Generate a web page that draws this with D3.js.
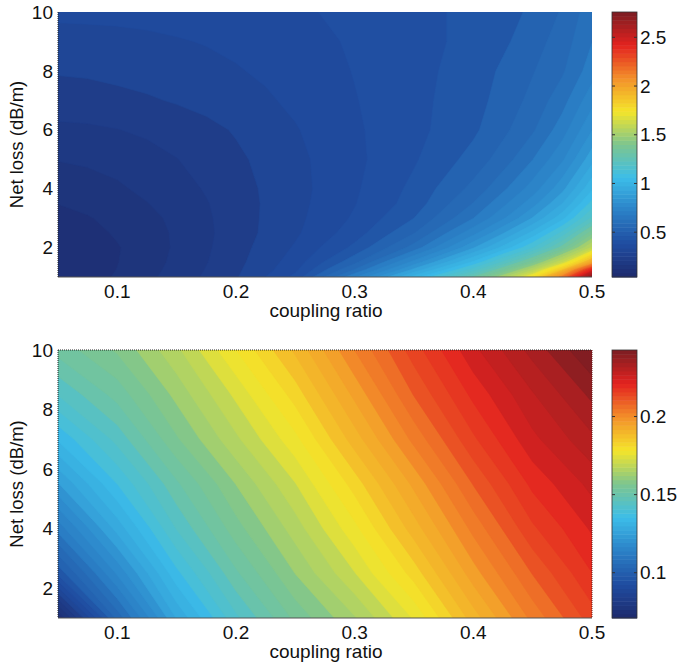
<!DOCTYPE html>
<html>
	<head>
		<script src="https://d3js.org/d3.v7.min.js"></script>
		<style>
			body {
				margin: 0;
				background: #fff;
			}
			text {
				font-family: 'Liberation Sans', Arial, sans-serif;
				fill: #111;
			}
		</style>
	</head>

	<body>
		<svg id="fig" width="685" height="666"></svg>
		<script>
			// ---- top panel: grid (rows follow lossTop, columns follow ratioTop)
			const ratioTop = [0.05, 0.075, 0.1, 0.125, 0.15, 0.175, 0.2, 0.225, 0.25, 0.3, 0.35, 0.4, 0.425, 0.45, 0.475, 0.5];
			const lossTop = [1, 1.25, 1.5, 2, 2.5, 3, 3.5, 4, 5, 6, 7, 8, 9, 10];
			const valuesTop = [
				[0.06, 0.09, 0.12, 0.155, 0.19, 0.23, 0.27, 0.33, 0.4, 0.7, 1.0, 1.3, 1.5, 1.75, 2.15, 2.75],
				[0.06, 0.086, 0.115, 0.149, 0.185, 0.224, 0.265, 0.313, 0.37, 0.6, 0.88, 1.16, 1.34, 1.55, 1.88, 2.42],
				[0.062, 0.085, 0.112, 0.145, 0.18, 0.219, 0.26, 0.305, 0.355, 0.53, 0.78, 1.04, 1.2, 1.38, 1.62, 2.0],
				[0.07, 0.087, 0.11, 0.141, 0.175, 0.213, 0.255, 0.293, 0.335, 0.45, 0.62, 0.86, 0.99, 1.13, 1.32, 1.58],
				[0.08, 0.097, 0.12, 0.146, 0.175, 0.21, 0.25, 0.284, 0.32, 0.41, 0.54, 0.74, 0.86, 0.99, 1.15, 1.38],
				[0.095, 0.11, 0.13, 0.153, 0.18, 0.213, 0.25, 0.282, 0.315, 0.39, 0.49, 0.65, 0.75, 0.87, 1.01, 1.2],
				[0.115, 0.128, 0.145, 0.166, 0.19, 0.218, 0.25, 0.281, 0.312, 0.38, 0.46, 0.6, 0.69, 0.79, 0.92, 1.1],
				[0.135, 0.146, 0.16, 0.179, 0.2, 0.226, 0.255, 0.282, 0.31, 0.375, 0.45, 0.56, 0.64, 0.73, 0.85, 1.02],
				[0.17, 0.176, 0.185, 0.201, 0.22, 0.241, 0.265, 0.289, 0.315, 0.37, 0.43, 0.51, 0.57, 0.65, 0.75, 0.9],
				[0.21, 0.213, 0.22, 0.231, 0.245, 0.261, 0.28, 0.302, 0.325, 0.375, 0.42, 0.48, 0.53, 0.59, 0.68, 0.81],
				[0.25, 0.253, 0.26, 0.269, 0.28, 0.292, 0.305, 0.322, 0.34, 0.38, 0.42, 0.47, 0.51, 0.56, 0.63, 0.74],
				[0.28, 0.283, 0.29, 0.297, 0.305, 0.314, 0.325, 0.337, 0.35, 0.385, 0.42, 0.46, 0.5, 0.54, 0.59, 0.68],
				[0.31, 0.312, 0.315, 0.319, 0.325, 0.332, 0.34, 0.349, 0.36, 0.39, 0.42, 0.45, 0.48, 0.52, 0.57, 0.65],
				[0.34, 0.341, 0.342, 0.345, 0.35, 0.355, 0.36, 0.367, 0.375, 0.395, 0.42, 0.45, 0.47, 0.5, 0.55, 0.63]
			];
			const colorRangeTop = [0.04, 2.76];
			const barTicksTop = [0.5, 1, 1.5, 2, 2.5];

			// ---- bottom panel
			const ratioBottom = [0.05, 0.1, 0.15, 0.2, 0.25, 0.3, 0.35, 0.4, 0.45, 0.5];
			const lossBottom = [1, 2.5, 4, 5.5, 7, 8.5, 10];
			const valuesBottom = [
				[0.072, 0.104, 0.127, 0.143, 0.155, 0.164, 0.175, 0.19, 0.203, 0.214],
				[0.097, 0.117, 0.136, 0.15, 0.161, 0.171, 0.183, 0.197, 0.209, 0.219],
				[0.111, 0.128, 0.144, 0.156, 0.166, 0.177, 0.19, 0.203, 0.215, 0.223],
				[0.123, 0.137, 0.15, 0.161, 0.171, 0.183, 0.196, 0.209, 0.22, 0.227],
				[0.134, 0.145, 0.157, 0.167, 0.177, 0.19, 0.203, 0.215, 0.225, 0.232],
				[0.144, 0.152, 0.162, 0.172, 0.183, 0.196, 0.209, 0.22, 0.229, 0.237],
				[0.152, 0.158, 0.167, 0.178, 0.189, 0.202, 0.214, 0.225, 0.234, 0.243]
			];
			const colorRangeBottom = [0.071, 0.2426];
			const barTicksBottom = [0.1, 0.15, 0.2];

			const xTicks = [0.1, 0.2, 0.3, 0.4, 0.5];
			const yTicks = [2, 4, 6, 8, 10];
			const xLabel = 'coupling ratio';
			const yLabel = 'Net loss (dB/m)';

			// washed-out jet, as in the printed figure
			const jetStops = [0, 0.125, 0.25, 0.375, 0.5, 0.625, 0.75, 0.875, 1];
			const jetColors = ['#1e2a6c', '#1f4ca0', '#2b80c6', '#3cbde9', '#7dc58f', '#f4e52a', '#f3902a', '#e3221f', '#7c1d22'];
			const jet = d3.scaleLinear().domain(jetStops).range(jetColors).interpolate(d3.interpolateRgb).clamp(true);
			const nColors = 64;
			const nLevels = 50;

			const svg = d3.select('svg#fig');
			const plotLeft = 58,
				plotRight = 592;
			const barLeft = 612,
				barWidth = 25;

			function colorOf(v, range) {
				let t = (v - range[0]) / (range[1] - range[0]);
				let k = Math.max(0, Math.min(nColors - 1, Math.floor(t * nColors)));
				return jet((k + 0.5) / nColors);
			}

			function drawPanel(opts) {
				const x = d3.scaleLinear().domain([0.05, 0.5]).range([plotLeft, plotRight]);
				const y = d3.scaleLinear().domain([1, 10]).range([opts.bottom, opts.top]);
				const g = svg.append('g');

				const clipId = 'clip' + opts.id;
				svg
					.append('clipPath')
					.attr('id', clipId)
					.append('rect')
					.attr('x', plotLeft)
					.attr('y', opts.top)
					.attr('width', plotRight - plotLeft)
					.attr('height', opts.bottom - opts.top);

				const nx = opts.xs.length,
					ny = opts.ys.length;
				const flat = [];
				for (let j = 0; j < ny; j++) {
					for (let i = 0; i < nx; i++) flat.push(opts.z[j][i]);
				}
				const ext = d3.extent(flat);
				const step = (ext[1] - ext[0]) / nLevels;
				const thresholds = d3.range(nLevels).map((k) => ext[0] + k * step);
				const contours = d3.contours().size([nx, ny]).thresholds(thresholds)(flat);

				// grid index -> data value (grid is not evenly spaced)
				const ix = d3.scaleLinear().domain(d3.range(nx)).range(opts.xs).clamp(true);
				const iy = d3.scaleLinear().domain(d3.range(ny)).range(opts.ys).clamp(true);
				const toPx = (p) => [x(ix(p[0] - 0.5)), y(iy(p[1] - 0.5))];

				function ringPath(c) {
					let s = '';
					for (let poly of c.coordinates) {
						for (let ring of poly) {
							s += 'M' + ring.map((p) => toPx(p).join(',')).join('L') + 'Z';
						}
					}
					return s;
				}

				g.append('g')
					.attr('clip-path', 'url(#' + clipId + ')')
					.selectAll('path')
					.data(contours)
					.join('path')
					.attr('d', ringPath)
					.attr('fill-rule', 'evenodd')
					.attr('fill', (d) => colorOf(d.value + step / 2, opts.colorRange))
					.attr('stroke', (d) => colorOf(d.value + step / 2, opts.colorRange))
					.attr('stroke-width', 0.6);

				// frame
				const frame = g.append('g').attr('fill', 'none');
				frame
					.append('line')
					.attr('x1', plotLeft)
					.attr('x2', plotRight)
					.attr('y1', opts.bottom)
					.attr('y2', opts.bottom)
					.attr('stroke', '#555')
					.attr('stroke-width', 1.2);
				frame
					.append('line')
					.attr('x1', plotLeft)
					.attr('x2', plotLeft)
					.attr('y1', opts.top)
					.attr('y2', opts.bottom)
					.attr('stroke', '#222')
					.attr('stroke-dasharray', '1,1');
				if (opts.dottedTop) {
					frame
						.append('line')
						.attr('x1', plotLeft)
						.attr('x2', plotRight)
						.attr('y1', opts.top)
						.attr('y2', opts.top)
						.attr('stroke', '#222')
						.attr('stroke-dasharray', '1,1');
					frame
						.append('line')
						.attr('x1', plotRight)
						.attr('x2', plotRight)
						.attr('y1', opts.top)
						.attr('y2', opts.bottom)
						.attr('stroke', '#6a1a1a')
						.attr('stroke-dasharray', '1,1');
				}

				// tick labels
				g.append('g')
					.selectAll('text')
					.data(xTicks)
					.join('text')
					.attr('x', (d) => x(d))
					.attr('y', opts.bottom + 21)
					.attr('text-anchor', 'middle')
					.attr('font-size', 19)
					.text((d) => d);
				g.append('g')
					.selectAll('text')
					.data(yTicks)
					.join('text')
					.attr('x', plotLeft - 5)
					.attr('y', (d) => y(d))
					.attr('dy', '0.35em')
					.attr('text-anchor', 'end')
					.attr('font-size', 19)
					.text((d) => d);

				g.append('text')
					.attr('x', (plotLeft + plotRight) / 2 + 1)
					.attr('y', opts.bottom + 40)
					.attr('text-anchor', 'middle')
					.attr('font-size', 19)
					.text(xLabel);
				g.append('text')
					.attr('transform', 'translate(23,' + (opts.top + opts.bottom) / 2 + ') rotate(-90)')
					.attr('text-anchor', 'middle')
					.attr('font-size', 18.5)
					.text(yLabel);

				// colorbar
				const cb = d3.scaleLinear().domain(opts.colorRange).range([opts.bottom, opts.top]);
				const bar = svg.append('g');
				bar.selectAll('rect')
					.data(d3.range(nColors))
					.join('rect')
					.attr('x', barLeft)
					.attr('width', barWidth)
					.attr('y', (k) => cb(opts.colorRange[0] + ((k + 1) * (opts.colorRange[1] - opts.colorRange[0])) / nColors))
					.attr('height', (opts.bottom - opts.top) / nColors + 0.5)
					.attr('fill', (k) => jet((k + 0.5) / nColors));
				bar.append('rect')
					.attr('x', barLeft)
					.attr('y', opts.top)
					.attr('width', barWidth)
					.attr('height', opts.bottom - opts.top)
					.attr('fill', 'none')
					.attr('stroke', '#333')
					.attr('stroke-width', 0.8);
				const bt = bar.selectAll('g.btick').data(opts.barTicks).join('g').attr('class', 'btick');
				bt.append('line')
					.attr('x1', barLeft)
					.attr('x2', barLeft + 3)
					.attr('y1', (d) => cb(d))
					.attr('y2', (d) => cb(d))
					.attr('stroke', '#333');
				bt.append('line')
					.attr('x1', barLeft + barWidth - 3)
					.attr('x2', barLeft + barWidth)
					.attr('y1', (d) => cb(d))
					.attr('y2', (d) => cb(d))
					.attr('stroke', '#333');
				bt.append('text')
					.attr('x', barLeft + barWidth + 3)
					.attr('y', (d) => cb(d))
					.attr('dy', '0.35em')
					.attr('font-size', 19)
					.text((d) => d);
			}

			drawPanel({
				id: 'top',
				top: 12,
				bottom: 277,
				xs: ratioTop,
				ys: lossTop,
				z: valuesTop,
				colorRange: colorRangeTop,
				barTicks: barTicksTop,
				dottedTop: false
			});
			drawPanel({
				id: 'bottom',
				top: 350,
				bottom: 618,
				xs: ratioBottom,
				ys: lossBottom,
				z: valuesBottom,
				colorRange: colorRangeBottom,
				barTicks: barTicksBottom,
				dottedTop: true
			});
		</script>
	</body>
</html>
